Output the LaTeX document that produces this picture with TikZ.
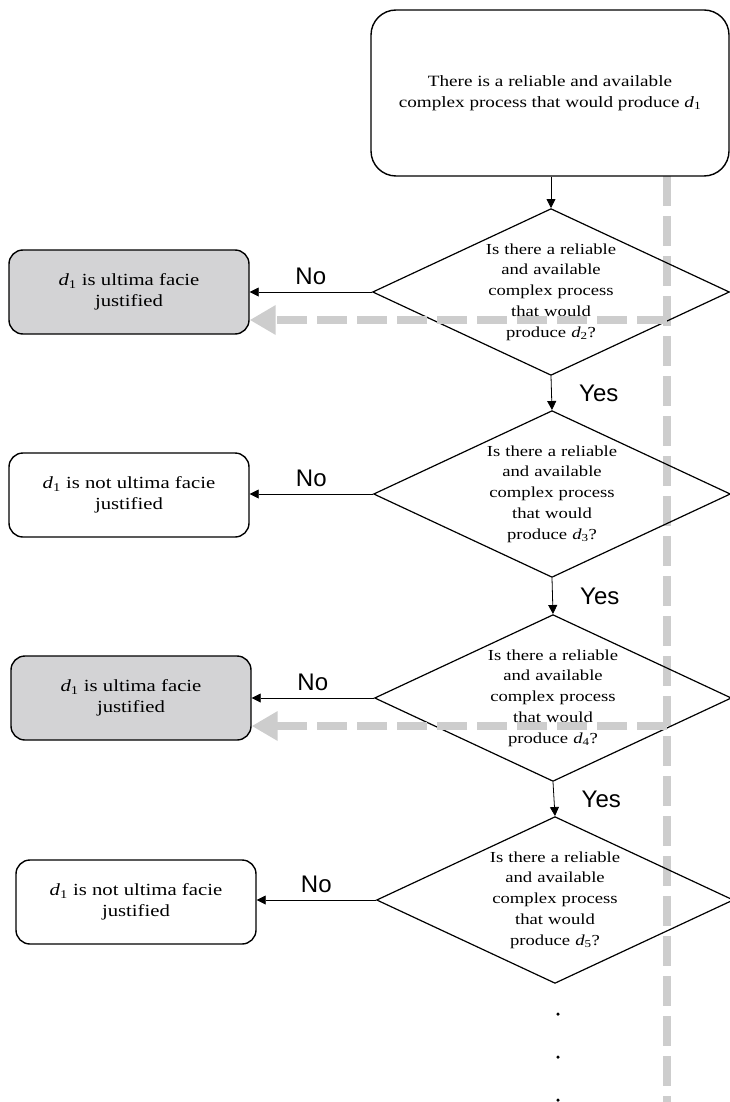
\documentclass[tikz,border=0pt]{standalone}
\usepackage{fontspec}
\setmainfont{Liberation Serif}[FakeStretch=1.22]
\newfontfamily\labfont{Liberation Sans}
\usetikzlibrary{shapes.geometric,arrows.meta}
\definecolor{boxgray}{RGB}{211,211,213}
\definecolor{dashgray}{RGB}{205,205,205}
\tikzset{
  txt/.style={font=\fontsize{17}{20.5}\selectfont, align=center},
  qtxt/.style={font=\fontsize{15.3}{20.7}\selectfont, align=center},
  startbox/.style={draw, line width=1.4pt, rounded corners=25pt, minimum width=358pt, minimum height=166pt, font=\fontsize{15.7}{20.5}\selectfont, align=center},
  outbox/.style={draw, line width=1.4pt, rounded corners=14pt, minimum width=240pt, minimum height=84pt, txt},
  graybox/.style={outbox, fill=boxgray},
  question/.style={draw, diamond, line width=1.2pt, inner sep=0pt, minimum width=356pt, minimum height=166pt, shape aspect=2.14, text width=150pt, qtxt},
  flow/.style={line width=0.8pt, -{Triangle[length=9pt,width=9pt]}},
  lab/.style={font=\labfont\fontsize{24}{27}\selectfont},
  gdash/.style={draw=dashgray, line width=8pt, dash pattern=on 30pt off 10pt},
  garrow/.style={gdash, -{Triangle[length=26pt,width=28pt,fill=dashgray,color=dashgray]}},
  dot/.style={circle, fill=black, inner sep=0pt, minimum size=3.5pt}
}
\newcommand{\dd}[1]{\textit{d}\textsubscript{#1}}
\begin{document}
\begin{tikzpicture}[x=1pt,y=-1pt]
\useasboundingbox (0,0) rectangle (730,1102);
% gray dashed guide
\coordinate (vtop) at (667,176);
\coordinate (vbot) at (667,1102);
\coordinate (h1) at (667,320);
\coordinate (h3) at (667,726);
\draw[gdash] (vtop) -- (vbot);

\node[startbox] (start) at (550,93) {There is a reliable and available\\complex process that would produce \dd{1}};

\node[question] (q2) at (551,292) {Is there a reliable\\and available\\complex process\\that would\\produce \dd{2}?};
\node[question] (q3) at (552,494) {Is there a reliable\\and available\\complex process\\that would\\produce \dd{3}?};
\node[question] (q4) at (553,698) {Is there a reliable\\and available\\complex process\\that would\\produce \dd{4}?};
\node[question] (q5) at (555,900) {Is there a reliable\\and available\\complex process\\that would\\produce \dd{5}?};

\node[graybox] (o2) at (129,292) {\dd{1} is ultima facie\\justified};
\node[outbox] (o3) at (129,495) {\dd{1} is not ultima facie\\justified};
\node[graybox] (o4) at (131,698) {\dd{1} is ultima facie\\justified};
\node[outbox] (o5) at (136,902) {\dd{1} is not ultima facie\\justified};

\draw[flow] (start.south -| q2.north) -- (q2.north);
\draw[flow] (q2.south) -- node[lab, right=24pt] (y2) {Yes} (q3.north);
\draw[flow] (q3.south) -- node[lab, right=24pt] (y3) {Yes} (q4.north);
\draw[flow] (q4.south) -- node[lab, right=24pt] (y4) {Yes} (q5.north);

\draw[flow] (q2.west) -- node[lab, above=4pt] (n2) {No} (q2.west -| o2.east);
\draw[flow] (q3.west) -- node[lab, above=4pt] (n3) {No} (q3.west -| o3.east);
\draw[flow] (q4.west) -- node[lab, above=4pt] (n4) {No} (q4.west -| o4.east);
\draw[flow] (q5.west) -- node[lab, above=4pt] (n5) {No} (q5.west -| o5.east);

\draw[garrow] (h1) -- (h1 -| o2.east);
\draw[garrow] (h3) -- (h3 -| o4.east);

\node[dot] (d1) at (558,1014) {};
\node[dot] (d2) at (558,1057) {};
\node[dot] (d3) at (558,1100) {};
\end{tikzpicture}
\end{document}
